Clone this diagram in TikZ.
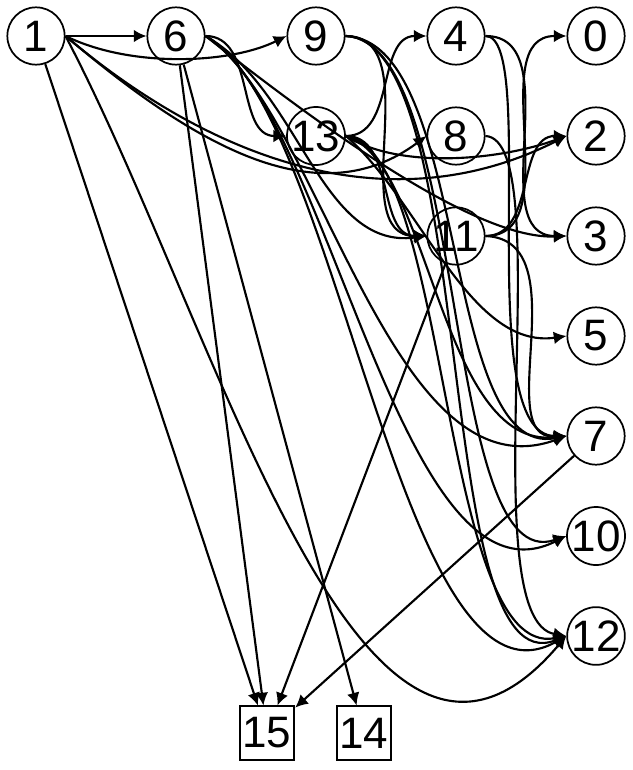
\documentclass[tikz,border=0pt]{standalone}
\usepackage{fontspec}
\setmainfont{Liberation Sans}
\usetikzlibrary{arrows.meta}
\begin{document}
\begin{tikzpicture}[x=0.75pt,y=-0.75pt,
  nd/.style={circle,draw,line width=1.3pt,minimum size=43pt,inner sep=0pt,font=\fontsize{33}{33}\selectfont},
  bx/.style={rectangle,draw,line width=1.3pt,minimum width=41pt,minimum height=40pt,inner sep=0pt,font=\fontsize{33}{33}\selectfont},
  ed/.style={line width=1.6pt,-{Latex[length=9.5pt,width=9.5pt]}}]
\useasboundingbox (0,0) rectangle (632,770);
\node[nd] (n1) at (36,36) {1};
\node[nd] (n6) at (176,36) {6};
\node[nd] (n9) at (316,36) {9};
\node[nd] (n4) at (456,36) {4};
\node[nd] (n0) at (596,36) {0};
\node[nd] (n13) at (316,136) {13};
\node[nd] (n8) at (456,136) {8};
\node[nd] (n2) at (596,136) {2};
\node[nd] (n11) at (456,236) {11};
\node[nd] (n3) at (596,236) {3};
\node[nd] (n5) at (596,336) {5};
\node[nd] (n7) at (596,436) {7};
\node[nd] (n10) at (596,536) {10};
\node[nd] (n12) at (596,636) {12};
\node[bx] (n15) at (267,733) {15};
\node[bx] (n14) at (364,733) {14};
% from 1
\draw[ed] (n1.east) -- (n6.west);
\draw[ed] (n1.east) .. controls (130,68) and (230,64) .. (n9.west);
\draw[ed] (n1.east) .. controls (200,150) and (320,215) .. (n8.west);
\draw[ed] (n1.east) .. controls (200,150) and (380,230) .. (n2.west);
\draw[ed] (n1.east) .. controls (220,330) and (360,880) .. (n12.west);
\draw[ed] (n1) -- (n15);
% from 6
\draw[ed] (n6.east) to[out=0,in=180] (n13.west);
\draw[ed] (n6.east) .. controls (300,110) and (470,240) .. (n3.west);
\draw[ed] (n6.east) .. controls (300,90) and (320,250) .. (n11.west);
\draw[ed] (n6.east) .. controls (320,110) and (390,500) .. (n7.west);
\draw[ed] (n6.east) .. controls (330,110) and (400,620) .. (n10.west);
\draw[ed] (n6.east) .. controls (340,110) and (400,730) .. (n12.west);
\draw[ed] (n6) -- (n15);
\draw[ed] (n6) -- (n14);
% from 9
\draw[ed] (n9.east) to[out=0,in=180] (n11.west);
\draw[ed] (n9.east) .. controls (470,40) and (440,460) .. (n7.west);
\draw[ed] (n9.east) .. controls (480,40) and (430,690) .. (n12.west);
\draw[ed] (n9.east) .. controls (470,40) and (440,580) .. (n10.west);
% from 13
\draw[ed] (n13.east) to[out=0,in=180] (n4.west);
\draw[ed] (n13.east) .. controls (400,170) and (500,160) .. (n2.west);
\draw[ed] (n13.east) to[out=0,in=180] (n11.west);
\draw[ed] (n13.east) .. controls (420,200) and (470,350) .. (n5.west);
\draw[ed] (n13.east) .. controls (430,160) and (440,450) .. (n7.west);
\draw[ed] (n13.east) .. controls (450,150) and (440,660) .. (n12.west);
% from 8 and 4
\draw[ed] (n8.east) .. controls (560,140) and (470,620) .. (n12.west);
\draw[ed] (n4.east) to[out=0,in=180] (n3.west);
\draw[ed] (n4.east) .. controls (540,36) and (470,436) .. (n7.west);
% from 11
\draw[ed] (n11.east) to[out=0,in=180] (n0.west);
\draw[ed] (n11.east) to[out=0,in=180] (n2.west);
\draw[ed] (n11.east) .. controls (580,240) and (490,440) .. (n7.west);
\draw[ed] (n11) -- (n15);
% from 7
\draw[ed] (n7) -- (n15);
\end{tikzpicture}
\end{document}
